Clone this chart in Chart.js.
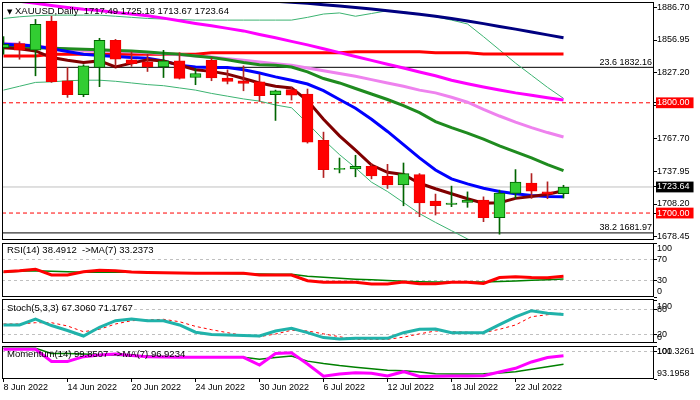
<!DOCTYPE html>
<html>
<head>
<meta charset="utf-8">
<title>XAUUSD Daily</title>
<script src="https://cdn.jsdelivr.net/npm/chart.js@4.4.1/dist/chart.umd.min.js"></script>
<style>
  body { margin: 0; width: 700px; height: 400px; background: #fff; position: relative; overflow: hidden; font-family: "Liberation Sans", Arial, sans-serif; }
  canvas { position: absolute; left: 0; }
  .lbl { position: absolute; left: 7px; font-size: 9.5px; line-height: 12px; color: #000; white-space: pre; z-index: 2; }
  .tri { font-family: "DejaVu Sans"; font-size: 7px; }
</style>
</head>
<body>
<canvas id="priceChart" width="700" height="242" style="top:0"></canvas>
<canvas id="rsiChart" width="700" height="56" style="top:242px"></canvas>
<canvas id="stochChart" width="700" height="46" style="top:298px"></canvas>
<canvas id="momChart" width="700" height="56" style="top:344px"></canvas>
<div class="lbl" style="top:5px"><span class="tri">▼</span> XAUUSD,Daily  1717.49 1725.18 1713.67 1723.64</div>
<div class="lbl" style="top:244px">RSI(14) 38.4912  -&gt;MA(7) 33.2373</div>
<div class="lbl" style="top:302px">Stoch(5,3,3) 67.3060 71.1767</div>
<div class="lbl" style="top:348px">Momentum(14) 99.8507  -&gt;MA(7) 96.9234</div>
<script>
// daily bars, 8 Jun .. 27 Jul 2022
const dates = ['8 Jun 2022','9 Jun 2022','10 Jun 2022','13 Jun 2022','14 Jun 2022','15 Jun 2022','16 Jun 2022','17 Jun 2022',
  '20 Jun 2022','21 Jun 2022','22 Jun 2022','23 Jun 2022','24 Jun 2022','27 Jun 2022','28 Jun 2022','29 Jun 2022',
  '30 Jun 2022','1 Jul 2022','4 Jul 2022','5 Jul 2022','6 Jul 2022','7 Jul 2022','8 Jul 2022','11 Jul 2022',
  '12 Jul 2022','13 Jul 2022','14 Jul 2022','15 Jul 2022','18 Jul 2022','19 Jul 2022','20 Jul 2022','21 Jul 2022',
  '22 Jul 2022','25 Jul 2022','26 Jul 2022','27 Jul 2022'];
const open  = [1850, 1853.6, 1847.7, 1874.1, 1820, 1807.4, 1832, 1856.6, 1839, 1837.1, 1832.6, 1838, 1822.9, 1838.5, 1822.4, 1820, 1819.1, 1807.4, 1811.9, 1808, 1765.9, 1739.5, 1740, 1742.4, 1733.4, 1725.6, 1734.9, 1710.9, 1707.8, 1709.7, 1711.8, 1695.9, 1717.8, 1727.1, 1719.3, 1717.49];
const high  = [1860, 1855.4, 1875.6, 1878.6, 1832, 1834.5, 1858.5, 1857.5, 1846, 1844, 1847.6, 1845.4, 1831, 1840.5, 1829.9, 1833.5, 1826, 1811.5, 1814, 1812.5, 1773.4, 1749.9, 1752.4, 1745, 1744.2, 1745.4, 1735.8, 1717.2, 1724.4, 1719.2, 1714.7, 1720.8, 1739.4, 1735.8, 1728.3, 1725.18];
const low   = [1844, 1839.5, 1824.5, 1818.5, 1804.9, 1805.5, 1814.6, 1832.9, 1833, 1828.4, 1822.9, 1821.5, 1816.4, 1820, 1817.1, 1810.9, 1801.3, 1784, 1802.5, 1763.4, 1732.2, 1736.4, 1732.9, 1731, 1722.3, 1706.6, 1696.7, 1698.2, 1705.8, 1705.2, 1692.2, 1680.8, 1713.3, 1713.3, 1713, 1713.67];
const close = [1853, 1847.7, 1871.1, 1819.1, 1807.4, 1833.5, 1856.6, 1839.5, 1835.5, 1832.6, 1838, 1822.1, 1826.6, 1822.5, 1819.3, 1817.5, 1806.5, 1810.9, 1806.8, 1764.3, 1739.4, 1740.5, 1742.4, 1733.7, 1725.6, 1735.8, 1709.1, 1706.6, 1709, 1711.8, 1695.9, 1718.1, 1728, 1719.9, 1717.2, 1723.64];

// moving averages / bands
const maNavy    = [1899, 1898.5, 1898, 1897.5, 1897, 1896.5, 1896, 1895.5, 1895, 1894.5, 1894, 1893.8, 1893.5, 1893.2, 1893, 1892.7, 1892.4, 1892.1, 1891.3, 1890.2, 1889, 1887.8, 1886.4, 1885, 1883.5, 1882, 1880.3, 1878.5, 1876.4, 1874.2, 1871.8, 1869.2, 1866.8, 1864.2, 1861.6, 1859];
const maRed     = [1842.4, 1842.4, 1842.4, 1844, 1844, 1844, 1844, 1844, 1844, 1844, 1844, 1844, 1844, 1845.4, 1845.4, 1845.4, 1845.4, 1845.4, 1845.4, 1845.4, 1845.4, 1845.4, 1846.3, 1846.3, 1846.3, 1846.3, 1846.3, 1845.4, 1845.4, 1845.4, 1844.2, 1844.2, 1844.2, 1844.2, 1844.2, 1844.2];
const maMagenta = [1894, 1892, 1890.3, 1888.3, 1886.5, 1884.8, 1883.7, 1882, 1880.5, 1879, 1876.8, 1874.5, 1872, 1869.8, 1867.5, 1865.2, 1862, 1859, 1855.7, 1852.5, 1849, 1845.5, 1842, 1838.5, 1835, 1831.5, 1828, 1824.5, 1820.5, 1817.3, 1814.3, 1811.6, 1809, 1806.8, 1804.6, 1802.5];
const maViolet  = [1854, 1853, 1851.5, 1850, 1848.5, 1847.5, 1847, 1846.5, 1846, 1845.5, 1844.5, 1843.5, 1842.5, 1841.5, 1840, 1838.5, 1837, 1835.5, 1834, 1831.5, 1829, 1826.5, 1824, 1821, 1818, 1815, 1811.5, 1809, 1805, 1800.5, 1794, 1788, 1782.5, 1777.5, 1773, 1769];
const maGreen   = [1851.5, 1850.5, 1850, 1849.5, 1849, 1848.5, 1848, 1847.5, 1847, 1846, 1845, 1844, 1842.5, 1841, 1839, 1836.5, 1834.5, 1834, 1832.5, 1828, 1822, 1818, 1813, 1808, 1803, 1797.5, 1791, 1783, 1777.5, 1772.5, 1767, 1761, 1755.5, 1750, 1744, 1738.5];
const maBlue    = [1853, 1852.5, 1851.5, 1849, 1846.5, 1844, 1843, 1842, 1841, 1840.5, 1838, 1834, 1832.5, 1832, 1832, 1830, 1827, 1823.5, 1820.5, 1817, 1811, 1803, 1795, 1785, 1774, 1762, 1750, 1739, 1731, 1726.5, 1722.5, 1719.5, 1717.5, 1716, 1715, 1714.7];
const maMaroon  = [1850, 1849, 1847, 1841, 1838.5, 1836.5, 1838, 1832.5, 1836, 1839, 1838, 1834, 1830, 1828.5, 1826, 1822, 1818, 1815, 1813.5, 1802, 1785, 1770, 1757, 1743.5, 1737, 1735, 1727, 1722, 1717.5, 1713, 1709, 1709.3, 1713.3, 1715, 1717, 1720.3];
const bandUpper = [1876.5, 1878, 1879, 1879.5, 1879.5, 1879.5, 1879.5, 1878.5, 1877.5, 1876.5, 1876, 1875.5, 1875, 1875, 1875, 1875, 1875, 1875, 1875, 1877.5, 1880.5, 1881.5, 1878.5, 1881, 1883.5, 1882.5, 1880.5, 1878, 1875, 1871.5, 1860, 1848, 1836, 1825, 1814, 1804];
const bandLower = [1811.5, 1815, 1818.5, 1819, 1820, 1820.5, 1820.5, 1819.5, 1818, 1816.5, 1815.5, 1813.5, 1811.5, 1808.5, 1806, 1803.5, 1801.5, 1798, 1795.5, 1781.5, 1766.5, 1753, 1741, 1728, 1719.5, 1709.5, 1699.5, 1691.5, 1684, 1676.5, 1670, 1666, 1664, 1665, 1668, 1671];

// sub windows
const rsi         = [46.9, 48.5, 51.5, 40.7, 40.7, 46.9, 49.5, 48.8, 46.5, 45.5, 45, 44.5, 43.8, 43.8, 43.8, 43.8, 40.7, 40.7, 40.7, 30.2, 27.2, 27.2, 27.2, 24, 24, 27.8, 24.7, 24.7, 27.2, 27.2, 25, 36, 37.6, 36, 35.8, 38.5];
const rsiMa       = [45.7, 47.5, 48.8, 47.8, 46.8, 45.7, 45.7, 45.7, 45.7, 45.3, 45, 44.6, 44.3, 44, 43.5, 43, 42.6, 42.2, 42, 38.5, 36.5, 34.5, 33, 31.8, 30.5, 29, 28.2, 27.9, 27.8, 27.8, 27.8, 28.7, 29.8, 30.8, 32, 33.3];
const stochMain   = [42.3, 42.3, 56.7, 41, 29, 15.8, 36.8, 52.6, 56.5, 52.6, 52.6, 42.3, 25, 19.5, 18.5, 17, 15.8, 27.9, 34.5, 24, 12, 8.5, 10.3, 10.3, 10.3, 23.8, 32, 32.7, 23.8, 23.8, 23.8, 43, 62, 76.7, 70.4, 67.3];
const stochSignal = [44.7, 44.7, 47.8, 47.8, 39.9, 26.2, 32, 44.7, 52.6, 54.5, 56, 50.2, 39, 31, 23.8, 17, 14.2, 20.6, 29.6, 27.9, 21, 14, 7.9, 7.9, 7.9, 13, 21, 27.9, 26.2, 25, 23.8, 32, 42.3, 62.2, 67, 71.2];
const momentum    = [100.5, 100.5, 100.5, 97.5, 97.5, 98.7, 99.1, 99.36, 99, 98.7, 98.6, 98.55, 98.54, 98.54, 98.54, 98.54, 96.64, 99.5, 99.68, 96.9, 93.9, 94.4, 94.75, 94.6, 93.94, 95, 93.8, 93.9, 93.94, 93.94, 94, 94.9, 95.83, 97.4, 98.5, 98.9];
const momentumMa  = [100.76, 100.76, 100.76, 99.5, 99.45, 99.36, 99.2, 99.05, 98.9, 98.86, 98.8, 98.7, 98.65, 98.6, 98.56, 98.54, 98.05, 98.5, 98.86, 97.6, 97, 96.5, 96.1, 95.7, 95.35, 95.25, 94.9, 94.5, 94.43, 94.43, 94.5, 94.7, 95, 95.6, 96.2, 96.85];

// axis ticks and horizontal levels
const priceTicks = [1886.70, 1856.95, 1827.20, 1797.45, 1767.70, 1737.95, 1708.20, 1678.45];
const lastPrice = 1723.64;
const roundLevels = [1800, 1700];
const fibLevels = [1832.16, 1681.97];
const fibNames = ['23.6', '38.2'];
const rsiTicks = [0, 30, 70, 100];
const rsiLevels = [30, 70];
const stochTicks = [0, 20, 80, 100];
const stochLevels = [20, 80];
const momTicks = [93.1958, 100, 101.3261];
const momLevels = [100];
const dateTickIdx = [0, 4, 8, 12, 16, 20, 24, 28, 32];

const FONT = '"Liberation Sans", Arial, sans-serif';
const X_MIN = -0.09375, X_MAX = 40.65625;

const pts = arr => arr.map((v, i) => ({ x: i, y: v }));
const hline = v => [{ x: X_MIN, y: v }, { x: X_MAX, y: v }];
const line = (data, color, width, order, extra) => Object.assign({
  type: 'line', data: data, borderColor: color, borderWidth: width,
  pointRadius: 0, tension: 0, clip: 0, order: order
}, extra || {});

// black box round every pane
const frame = {
  id: 'frame',
  afterDraw(chart) {
    const { ctx, chartArea: a } = chart;
    ctx.save();
    ctx.strokeStyle = '#000';
    ctx.lineWidth = 1;
    ctx.strokeRect(a.left + 0.5, a.top + 0.5, a.right - a.left - 1, a.bottom - a.top - 1);
    ctx.restore();
  }
};

// fibo level captions, right aligned above their lines
const fibText = {
  id: 'fibText',
  afterDatasetsDraw(chart) {
    const { ctx, chartArea, scales: { y } } = chart;
    ctx.save();
    ctx.font = '9px ' + FONT;
    ctx.fillStyle = '#000';
    ctx.textAlign = 'right';
    ctx.textBaseline = 'alphabetic';
    fibLevels.forEach((v, i) => {
      ctx.fillText(fibNames[i] + ' ' + v.toFixed(2), chartArea.right - 2, y.getPixelForValue(v) - 2.5);
    });
    ctx.restore();
  }
};

function xScale(show) {
  const s = {
    type: 'linear', min: X_MIN, max: X_MAX, offset: false, display: show,
    afterBuildTicks: sc => { sc.ticks = dateTickIdx.map(v => ({ value: v })); },
    grid: { drawOnChartArea: false, tickLength: 3, tickColor: '#000' },
    border: { display: false },
    ticks: { align: 'start', padding: 0, maxRotation: 0, autoSkip: false, color: '#000',
      font: { family: FONT, size: 9 }, callback: v => dates[v] }
  };
  if (show) s.afterFit = sc => { sc.height = 21; sc.paddingLeft = 0; sc.paddingRight = 0; };
  return s;
}

function paneY(min, max, ticks, levels, fmt) {
  const bottom = ticks[0], top = ticks[ticks.length - 1];
  return {
    position: 'right', min: min, max: max,
    afterBuildTicks: sc => { sc.ticks = ticks.map(v => ({ value: v })); },
    afterFit: sc => { sc.width = 46; sc.paddingTop = 0; sc.paddingBottom = 0; },
    grid: { color: c => levels.includes(c.tick.value) ? '#c0c0c0' : 'rgba(0,0,0,0)', tickLength: 3, tickColor: '#000' },
    border: { display: false, dash: [3, 3] },
    ticks: { autoSkip: false, padding: 0, color: '#000', font: { family: FONT, size: 9 },
      callback: v => v === top ? ['', fmt(v)] : v === bottom ? [fmt(v), ''] : fmt(v) }
  };
}

function baseOptions(pad, scales, plugins) {
  return {
    responsive: false, animation: false, devicePixelRatio: 1,
    layout: { padding: pad },
    plugins: { legend: { display: false }, tooltip: { enabled: false } },
    scales: scales
  };
}

// price window
const isUp = open.map((o, i) => close[i] >= o);
new Chart(document.getElementById('priceChart'), {
  type: 'line',
  data: {
    datasets: [
      { type: 'bar', data: open.map((o, i) => ({ x: i, y: [o, close[i]] })), barThickness: 11, grouped: false,
        backgroundColor: isUp.map(u => u ? '#32cd32' : '#ff0000'), borderColor: isUp.map(u => u ? '#006400' : '#f00000'),
        borderWidth: 1, borderSkipped: false, clip: 0, order: 0 },
      { type: 'bar', data: low.map((l, i) => ({ x: i, y: [l, high[i]] })), barThickness: 1, grouped: false,
        backgroundColor: isUp.map(u => u ? '#006400' : '#b22222'), borderWidth: 0, clip: 0, order: 1 },
      line(pts(maMaroon), '#800000', 3, 2),
      line(pts(maBlue), '#0000ff', 3, 2),
      line(pts(maGreen), '#1f8b1f', 3, 2),
      line(pts(maViolet), '#ee82ee', 3, 2),
      line(pts(maMagenta), '#ff00ff', 3, 2),
      line(pts(maRed), '#ff0000', 3, 2),
      line(pts(maNavy), '#000080', 3, 2),
      line(pts(bandUpper), '#3cb371', 1, 2),
      line(pts(bandLower), '#3cb371', 1, 2),
      line(hline(roundLevels[0]), '#ff0000', 1, 3, { borderDash: [4, 3] }),
      line(hline(roundLevels[1]), '#ff0000', 1, 3, { borderDash: [4, 3] }),
      line(hline(fibLevels[0]), '#000000', 1, 3),
      line(hline(fibLevels[1]), '#000000', 1, 3),
      line(hline(lastPrice), '#c0c0c0', 1, 3)
    ]
  },
  options: baseOptions({ left: 2, top: 2, right: 0, bottom: 2 }, {
    x: xScale(false),
    y: {
      position: 'right', min: 1675.55, max: 1891.42,
      afterBuildTicks: sc => { sc.ticks = priceTicks.concat([lastPrice], roundLevels).map(v => ({ value: v })); },
      afterFit: sc => { sc.width = 46; sc.paddingTop = 0; sc.paddingBottom = 0; },
      grid: { drawOnChartArea: false, tickLength: 3, tickColor: '#000' },
      border: { display: false },
      ticks: {
        autoSkip: false, padding: 0, font: { family: FONT, size: 9 },
        color: c => priceTicks.includes(c.tick.value) ? '#000' : '#fff',
        showLabelBackdrop: c => !priceTicks.includes(c.tick.value),
        backdropColor: c => c.tick.value === lastPrice ? '#000' : '#ff0000',
        backdropPadding: { top: 0, bottom: 0, left: 1, right: 4 },
        callback: v => v.toFixed(2)
      }
    }
  }),
  plugins: [frame, fibText]
});

// RSI window
new Chart(document.getElementById('rsiChart'), {
  type: 'line',
  data: { datasets: [
    line(pts(rsi), '#ff0000', 3, 0),
    line(pts(rsiMa), '#008000', 1.5, 1)
  ] },
  options: baseOptions({ left: 2, top: 1, right: 0, bottom: 1 }, {
    x: xScale(false),
    y: paneY(0, 100, rsiTicks, rsiLevels, v => String(v))
  }),
  plugins: [frame]
});

// Stochastic window
new Chart(document.getElementById('stochChart'), {
  type: 'line',
  data: { datasets: [
    line(pts(stochMain), '#20b2aa', 3, 0),
    line(pts(stochSignal), '#ff0000', 1, 1, { borderDash: [3, 3] })
  ] },
  options: baseOptions({ left: 2, top: 1, right: 0, bottom: 1 }, {
    x: xScale(false),
    y: paneY(-1, 104.8, stochTicks, stochLevels, v => String(v))
  }),
  plugins: [frame]
});

// Momentum window, carries the date axis
new Chart(document.getElementById('momChart'), {
  type: 'line',
  data: { datasets: [
    line(pts(momentum), '#ff00ff', 3, 0),
    line(pts(momentumMa), '#008000', 1.5, 1)
  ] },
  options: baseOptions({ left: 2, top: 2, right: 0, bottom: 0 }, {
    x: xScale(true),
    y: paneY(93.1958, 101.3261, momTicks, momLevels, v => String(v))
  }),
  plugins: [frame]
});
</script>
</body>
</html>
